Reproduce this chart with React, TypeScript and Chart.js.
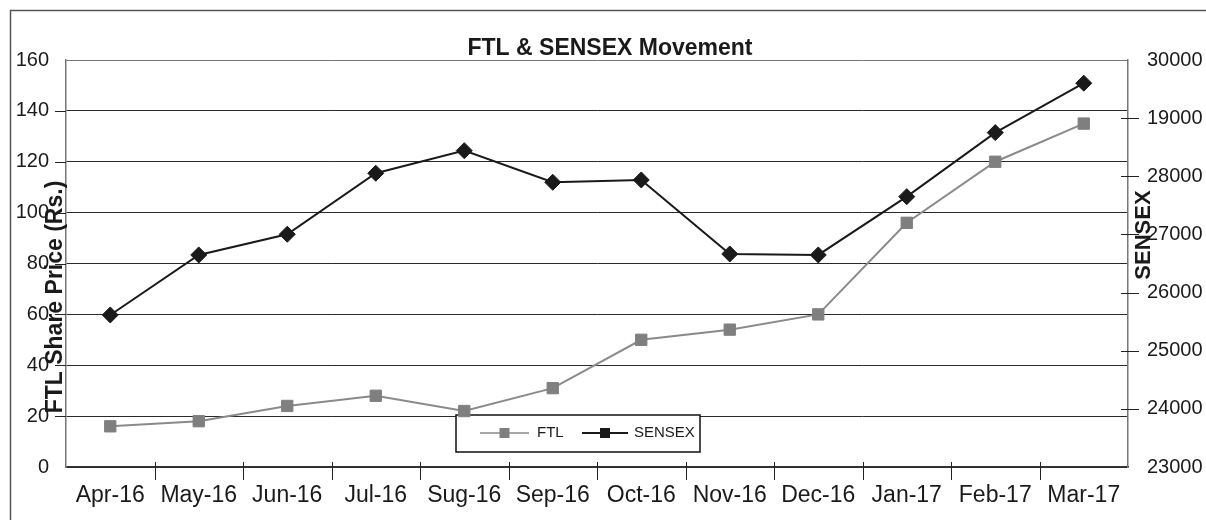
import React, { useEffect, useRef } from 'react';
import { Chart, registerables } from 'chart.js';

Chart.register(...registerables);

const categories = ['Apr-16', 'May-16', 'Jun-16', 'Jul-16', 'Sug-16', 'Sep-16', 'Oct-16', 'Nov-16', 'Dec-16', 'Jan-17', 'Feb-17', 'Mar-17'];
const ftlPrices = [16, 18, 24, 28, 22, 31, 50, 54, 60, 96, 120, 135];
const sensexValues = [25615, 26647, 27003, 28052, 28441, 27897, 27937, 26664, 26647, 27650, 28751, 29601];
const rightTickLabels = ['23000', '24000', '25000', '26000', '27000', '28000', '19000', '30000'];
const leftTickMarks = [20, 40, 60, 80, 100, 120, 140];
const rightTickMarks = [24000, 25000, 26000, 27000, 28000, 29000];
const chartTitle = 'FTL & SENSEX Movement';
const leftAxisTitle = 'FTL Share Price (Rs.)';
const rightAxisTitle = 'SENSEX';

const FONT = "'Liberation Sans', Arial, Helvetica, sans-serif";
const TEXT = '#1a1a1a';

const decorPlugin = {
  id: 'decor',
  beforeDraw(chart: any) {
    const ctx = chart.ctx;
    ctx.save();
    ctx.fillStyle = '#ffffff';
    ctx.fillRect(0, 0, chart.width, chart.height);
    ctx.strokeStyle = '#555555';
    ctx.lineWidth = 1.5;
    ctx.beginPath();
    ctx.moveTo(10.5, chart.height);
    ctx.lineTo(10.5, 10.5);
    ctx.lineTo(chart.width, 10.5);
    ctx.stroke();
    ctx.restore();
  },
  beforeDatasetsDraw(chart: any) {
    const ctx = chart.ctx;
    const area = chart.chartArea;
    const bx = area.left + 390;
    const by = area.bottom - 52;
    const bw = 244;
    const bh = 37;
    ctx.save();
    ctx.fillStyle = '#ffffff';
    ctx.fillRect(bx, by, bw, bh);
    ctx.strokeStyle = '#111111';
    ctx.lineWidth = 1.5;
    ctx.strokeRect(bx, by, bw, bh);
    const cy = by + 18;
    const items = [
      { x0: bx + 24, x1: bx + 73, tx: bx + 81 },
      { x0: bx + 126, x1: bx + 172, tx: bx + 178 },
    ];
    chart.data.datasets.forEach((ds: any, i: number) => {
      const it = items[i];
      ctx.strokeStyle = ds.borderColor;
      ctx.lineWidth = i === 0 ? 1.5 : 2;
      ctx.beginPath();
      ctx.moveTo(it.x0, cy);
      ctx.lineTo(it.x1, cy);
      ctx.stroke();
      ctx.fillStyle = ds.pointBackgroundColor;
      const mx = (it.x0 + it.x1) / 2;
      ctx.fillRect(mx - 5, cy - 5, 10, 10);
      ctx.fillStyle = TEXT;
      ctx.font = `15px ${FONT}`;
      ctx.textAlign = 'left';
      ctx.textBaseline = 'middle';
      ctx.fillText(ds.label, it.tx, cy);
    });
    ctx.restore();
  },
  afterDraw(chart: any) {
    const ctx = chart.ctx;
    const area = chart.chartArea;
    const xs = chart.scales.x;
    const ys = chart.scales.y;
    const y1 = chart.scales.y1;
    ctx.save();
    ctx.strokeStyle = '#222222';
    ctx.lineWidth = 1;
    // x ticks between categories
    for (let i = 0; i < categories.length - 1; i++) {
      const px = Math.round((xs.getPixelForValue(i) + xs.getPixelForValue(i + 1)) / 2) + 0.5;
      ctx.beginPath();
      ctx.moveTo(px, area.bottom - 5);
      ctx.lineTo(px, area.bottom + 13);
      ctx.stroke();
    }
    // left ticks
    leftTickMarks.forEach((v) => {
      const py = Math.round(ys.getPixelForValue(v)) + 0.5;
      ctx.beginPath();
      ctx.moveTo(area.left - 11, py);
      ctx.lineTo(area.left, py);
      ctx.stroke();
    });
    // right ticks
    rightTickMarks.forEach((v) => {
      const py = Math.round(y1.getPixelForValue(v)) + 0.5;
      ctx.beginPath();
      ctx.moveTo(area.right - 7, py);
      ctx.lineTo(area.right + 11, py);
      ctx.stroke();
    });
    // title
    ctx.fillStyle = TEXT;
    ctx.font = `bold 23px ${FONT}`;
    ctx.textAlign = 'center';
    ctx.textBaseline = 'alphabetic';
    ctx.fillText(chartTitle, area.left + 544, 55);
    // left axis title
    ctx.save();
    ctx.translate(62, 297);
    ctx.rotate(-Math.PI / 2);
    ctx.font = `bold 23px ${FONT}`;
    ctx.textAlign = 'center';
    ctx.textBaseline = 'alphabetic';
    ctx.fillText(leftAxisTitle, 0, 0);
    ctx.restore();
    // right axis title
    ctx.save();
    ctx.translate(area.right + 22, 235);
    ctx.rotate(-Math.PI / 2);
    ctx.font = `bold 22px ${FONT}`;
    ctx.textAlign = 'center';
    ctx.textBaseline = 'alphabetic';
    ctx.fillText(rightAxisTitle, 0, 0);
    ctx.restore();
    ctx.restore();
  },
};

export default function App() {
  const canvasRef = useRef<HTMLCanvasElement | null>(null);

  useEffect(() => {
    document.body.style.margin = '0';
    const canvas = canvasRef.current;
    if (!canvas) return;
    const chart = new Chart(canvas, {
      type: 'line',
      data: {
        labels: categories,
        datasets: [
          {
            label: 'FTL',
            data: ftlPrices,
            yAxisID: 'y',
            borderColor: '#8a8a8a',
            backgroundColor: '#7f7f7f',
            pointBackgroundColor: '#7f7f7f',
            pointBorderColor: '#7f7f7f',
            pointStyle: 'rect',
            pointRadius: 8,
            pointBorderWidth: 1,
            borderWidth: 2,
            tension: 0,
          },
          {
            label: 'SENSEX',
            data: sensexValues,
            yAxisID: 'y1',
            borderColor: '#1a1a1a',
            backgroundColor: '#1a1a1a',
            pointBackgroundColor: '#1a1a1a',
            pointBorderColor: '#1a1a1a',
            pointStyle: 'rectRot',
            pointRadius: 8,
            pointBorderWidth: 1,
            borderWidth: 2,
            tension: 0,
          },
        ],
      },
      options: {
        responsive: false,
        devicePixelRatio: 1,
        animation: false,
        layout: { padding: { top: 60, left: 0, right: 0, bottom: 0 } },
        plugins: {
          legend: { display: false },
          title: { display: false },
          tooltip: { enabled: false },
        },
        scales: {
          x: {
            type: 'category',
            offset: true,
            grid: { display: false, drawTicks: false },
            border: { display: true, color: '#333333', width: 1.5 },
            ticks: {
              color: TEXT,
              font: { family: FONT, size: 23 },
              padding: 15,
              maxRotation: 0,
              autoSkip: false,
            },
            afterFit: (scale: any) => {
              scale.height = 53;
            },
          },
          y: {
            type: 'linear',
            position: 'left',
            min: 0,
            max: 160,
            ticks: {
              stepSize: 20,
              color: TEXT,
              font: { family: FONT, size: 20 },
              padding: 17,
            },
            grid: {
              drawTicks: false,
              lineWidth: 1,
              color: (c: any) => (c.tick && c.tick.value === 160 ? '#777777' : '#2a2a2a'),
            },
            border: { display: true, color: '#777777', width: 1.5 },
            afterFit: (scale: any) => {
              scale.width = 66;
            },
          },
          y1: {
            type: 'linear',
            position: 'right',
            min: 23000,
            max: 30000,
            ticks: {
              stepSize: 1000,
              color: TEXT,
              font: { family: FONT, size: 20 },
              padding: 19,
              callback: (_v: any, i: number) => rightTickLabels[i],
            },
            grid: { display: false, drawTicks: false },
            border: { display: true, color: '#777777', width: 1.5 },
            afterFit: (scale: any) => {
              scale.width = 78;
            },
          },
        },
      },
      plugins: [decorPlugin],
    });
    return () => chart.destroy();
  }, []);

  return (
    <div style={{ width: 1206, height: 520 }}>
      <canvas ref={canvasRef} width={1206} height={520} style={{ display: 'block', width: 1206, height: 520 }} />
    </div>
  );
}
